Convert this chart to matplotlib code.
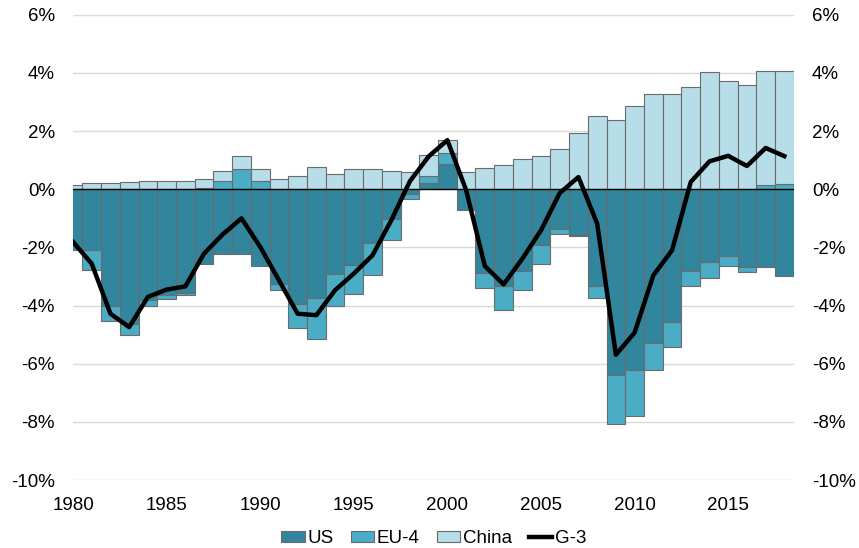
import matplotlib.pyplot as plt
import matplotlib.ticker as mticker
import numpy as np

# Contributions to the current account balance, % of GDP
years = list(range(1980, 2019))

us = [-2.10, -2.10, -4.03, -4.62, -3.80, -3.65, -3.57, -2.56, -2.21, -2.21,
      -2.64, -3.25, -3.93, -3.73, -2.92, -2.59, -1.85, -1.03, -0.18, 0.23,
      0.88, -0.70, -2.88, -3.34, -2.82, -1.90, -1.36, -1.59, -3.34, -6.38,
      -6.23, -5.28, -4.56, -2.82, -2.50, -2.31, -2.67, -2.67, -2.97]

eu4 = [0.00, -0.66, -0.51, -0.40, -0.23, -0.13, -0.07, 0.03, 0.28, 0.70,
       0.28, -0.22, -0.83, -1.43, -1.11, -1.02, -1.09, -0.70, -0.14, 0.22,
       0.37, 0.00, -0.50, -0.80, -0.65, -0.68, -0.18, -0.03, -0.39, -1.68,
       -1.57, -0.95, -0.86, -0.51, -0.55, -0.33, -0.17, 0.13, 0.17]

china = [0.16, 0.21, 0.23, 0.25, 0.28, 0.30, 0.28, 0.34, 0.36, 0.46,
         0.40, 0.37, 0.47, 0.77, 0.53, 0.68, 0.68, 0.64, 0.60, 0.72,
         0.43, 0.60, 0.72, 0.85, 1.03, 1.16, 1.40, 1.95, 2.52, 2.37,
         2.86, 3.26, 3.29, 3.53, 4.03, 3.74, 3.58, 3.92, 3.90]

g3 = [-1.81, -2.56, -4.28, -4.74, -3.70, -3.45, -3.34, -2.21, -1.55, -1.00,
      -1.98, -3.13, -4.28, -4.33, -3.47, -2.90, -2.27, -1.07, 0.28, 1.13,
      1.69, -0.03, -2.64, -3.27, -2.39, -1.41, -0.13, 0.42, -1.18, -5.69,
      -4.93, -2.96, -2.10, 0.25, 0.96, 1.15, 0.80, 1.42, 1.14]

series = [("US", us, "#31859C"), ("EU-4", eu4, "#4BACC6"), ("China", china, "#B7DEE8")]


def plot_chart(output_filename):
    plt.rcParams['font.family'] = ['Liberation Sans', 'DejaVu Sans']
    plt.rcParams['font.size'] = 13.5

    fig = plt.figure(figsize=(8.59, 5.48), dpi=100)
    ax = fig.add_axes([0.085, 0.124, 0.839, 0.849])

    x = np.array(years)
    pos_base = np.zeros(len(x))
    neg_base = np.zeros(len(x))

    # positives stack upwards from zero, negatives downwards
    for name, vals, color in series:
        vals = np.array(vals)
        bottom = np.where(vals >= 0, pos_base, neg_base)
        ax.bar(x, vals, bottom=bottom, width=1.0, color=color,
               edgecolor="#6b6b6b", linewidth=0.8, label=name, zorder=2)
        pos_base = pos_base + np.where(vals > 0, vals, 0)
        neg_base = neg_base + np.where(vals < 0, vals, 0)

    ax.plot(x, g3, color="black", linewidth=3.2, label="G-3", zorder=4,
            solid_joinstyle="round")
    ax.axhline(0, color="black", linewidth=1.0, zorder=3)

    ax.set_xlim(1980, 2018.5)
    ax.set_ylim(-10, 6)
    ax.set_yticks(np.arange(-10, 7, 2))
    ax.set_xticks(np.arange(1980, 2019, 5))
    ax.yaxis.set_major_formatter(mticker.FuncFormatter(lambda v, p: f"{v:.0f}%"))

    ax.grid(True, axis="y", color="#d9d9d9", linewidth=1.0, zorder=0)
    ax.set_axisbelow(True)
    for s in ax.spines.values():
        s.set_visible(False)

    ax.tick_params(axis="both", length=0, colors="black")
    ax.tick_params(axis="y", pad=13, labelright=True)
    ax.tick_params(axis="x", pad=12)

    handles, labels = ax.get_legend_handles_labels()
    order = [1, 2, 3, 0]
    fig.legend([handles[i] for i in order], [labels[i] for i in order],
               loc="lower center", bbox_to_anchor=(0.505, -0.016), ncol=4,
               frameon=False, handlelength=1.25, handleheight=0.55,
               handletextpad=0.15, columnspacing=0.9, borderpad=0.0)

    fig.savefig(output_filename, dpi=100)
    plt.close(fig)


if __name__ == "__main__":
    plot_chart("out.png")
